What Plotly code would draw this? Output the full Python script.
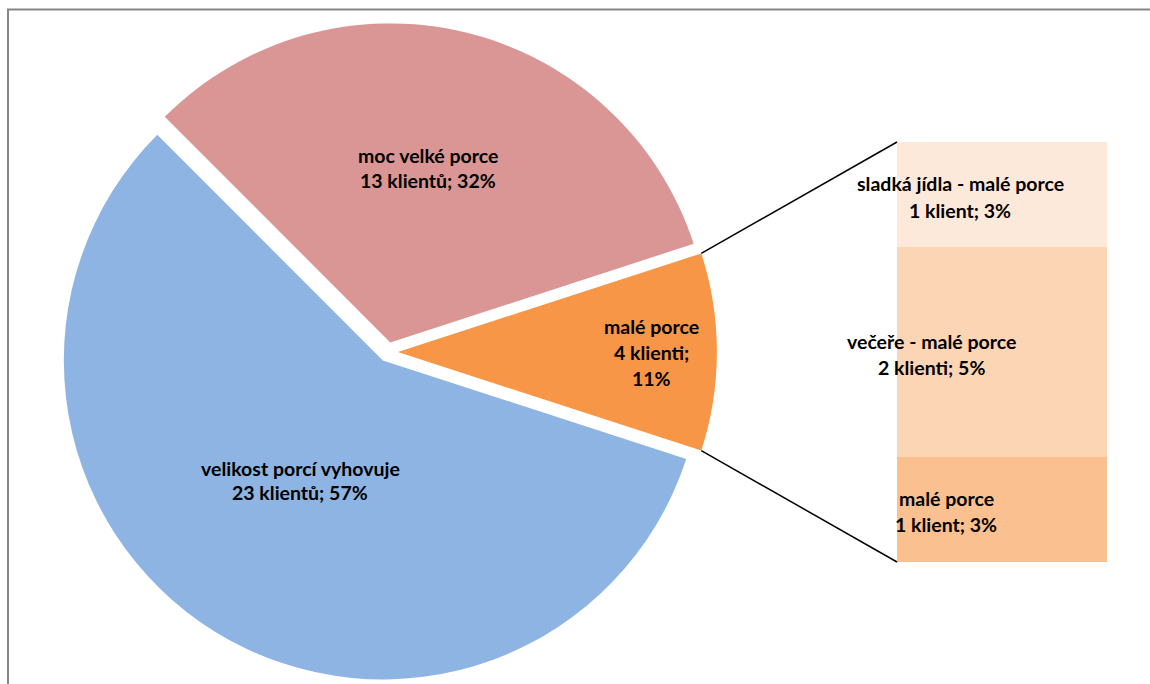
import plotly.graph_objects as go
import math

# ---------------- data ----------------
pie_labels = ["malé porce", "moc velké porce", "velikost porcí vyhovuje"]
pie_values = [4, 13, 23]
pie_colors = ["#F79646", "#D99694", "#8EB4E3"]
pie_text = [["malé porce", "4 klienti;", "11%"],
            ["moc velké porce", "13 klientů; 32%"],
            ["velikost porcí vyhovuje", "23 klientů; 57%"]]

bar_labels = ["malé porce", "večeře - malé porce", "sladká jídla - malé porce"]
bar_values = [1, 2, 1]
bar_colors = ["#FAC090", "#FCD5B5", "#FDE9D9"]
bar_text = [["malé porce", "1 klient; 3%"],
            ["večeře - malé porce", "2 klienti; 5%"],
            ["sladká jídla - malé porce", "1 klient; 3%"]]

# ---------------- layout constants (pixels) ----------------
W, H = 1150, 684
def px(x):
    return x / W
def py(y):
    return 1 - y / H

cx, cy = 388, 352          # pie centre
R = 319                     # pie radius
pull = 0.031
half = (R * (1 + pull))     # half size of pie domain
bar_x0, bar_x1 = 897, 1107
bar_ytop, bar_ybot = 142, 562

FONT = "Lato, 'Open Sans', sans-serif"
FSIZE = 19.5

fig = go.Figure()

# counterclockwise: the first slice ends at the rotation angle
fig.add_trace(go.Pie(
    labels=pie_labels, values=pie_values, sort=False,
    direction="counterclockwise", rotation=90 - 180 * pie_values[0] / sum(pie_values),
    pull=[pull] * len(pie_values),
    marker=dict(colors=pie_colors, line=dict(width=0)),
    textinfo="none", hoverinfo="label+value+percent", showlegend=False,
    domain=dict(x=[px(cx - half), px(cx + half)], y=[py(cy + half), py(cy - half)]),
))

for lab, val, col in zip(bar_labels, bar_values, bar_colors):
    fig.add_trace(go.Bar(
        x=[0], y=[val], name=lab, marker=dict(color=col, line=dict(width=0)),
        xaxis="x", yaxis="y", showlegend=False, hoverinfo="name+y",
    ))

total_bar = sum(bar_values)

# connector lines: from the edges of the "other" slice to the bar corners
ha = math.pi * pie_values[0] / sum(pie_values)
ox = cx + pull * R  # centre of pulled "other" slice
shapes = []
for sgn, by in [(-1, bar_ytop), (1, bar_ybot)]:
    sx = ox + R * math.cos(ha)
    sy = cy + sgn * R * math.sin(ha)
    shapes.append(dict(type="line", xref="paper", yref="paper",
                       x0=px(sx), y0=py(sy), x1=px(bar_x0), y1=py(by),
                       line=dict(color="#000000", width=1.5)))
# outer chart border (partially visible)
shapes.append(dict(type="rect", xref="paper", yref="paper",
                   x0=px(8), y0=py(9.5), x1=1.05, y1=-0.05,
                   line=dict(color="#868686", width=2), fillcolor="rgba(0,0,0,0)"))

# labels (one annotation per line)
label_pos = [
    (651, [326, 352, 378]),
    (428, [155, 181]),
    (300, [468, 493]),
    (946, [498, 524]),
    (931, [341, 367]),
    (960, [183, 210]),
]
all_text = pie_text + bar_text
annotations = []
for (x, ys), lines in zip(label_pos, all_text):
    for y, t in zip(ys, lines):
        annotations.append(dict(x=px(x), y=py(y), xref="paper", yref="paper",
                                text=t, showarrow=False, xanchor="center", yanchor="middle",
                                font=dict(family=FONT, size=FSIZE, color="#000000", weight="bold")))

fig.update_layout(
    width=W, height=H, margin=dict(l=0, r=0, t=0, b=0),
    paper_bgcolor="white", plot_bgcolor="rgba(0,0,0,0)",
    barmode="stack", bargap=0,
    xaxis=dict(domain=[px(bar_x0), px(bar_x1)], range=[-0.5, 0.5], visible=False, fixedrange=True),
    yaxis=dict(domain=[py(bar_ybot), py(bar_ytop)], range=[0, total_bar], visible=False, fixedrange=True),
    shapes=shapes, annotations=annotations,
)

fig.write_html("out.html", config={"displayModeBar": False},
               post_script="document.body.style.margin='0';")
